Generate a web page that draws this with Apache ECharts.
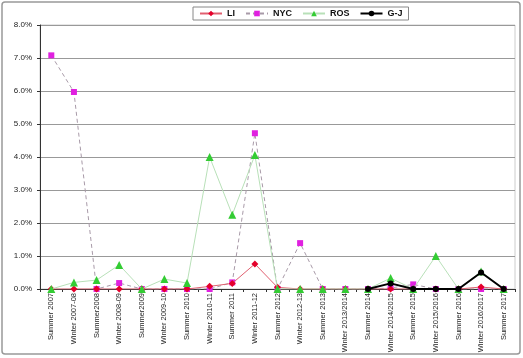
<!DOCTYPE html>
<html><head><meta charset="utf-8">
<script src="https://cdn.jsdelivr.net/npm/echarts@6/dist/echarts.min.js"></script>
<style>html,body{margin:0;padding:0;background:#fff}#c{width:523px;height:358px}</style>
</head><body><div id="c"></div>
<script>
const categories = ["Summer 2007","Winter 2007-08","Summer2008","Winter 2008-09","Summer2009","Winter 2009-10","Summer 2010","Winter 2010-11","Summer 2011","Winter 2011-12","Summer 2012","Winter 2012-13","Summer 2013","Winter 2013/2014","Summer 2014","Winter 2014/2015","Summer 2015","Winter 2015/2016","Summer 2016","Winter 2016/2017","Summer 2017"];
const LI  = [0,0,0,0,0,0,0,0.08,0.17,0.76,0.05,0,0,0,0,0,0,0,0,0.06,0];
const NYC = [7.08,5.97,0,0.18,0,0,0,0,0.2,4.72,0,1.39,0,0,0,0.03,0.14,0,0,0,0];
const ROS = [0,0.2,0.27,0.73,0,0.3,0.18,4.0,2.25,4.06,0,0,0,0,0,0.33,0,1.0,0,0.53,0];
const GJ  = [null,null,null,null,null,null,null,null,null,null,null,null,null,null,0,0.17,0,0,0,0.5,0];
const yTicks = [0,1,2,3,4,5,6,7,8];

const chart = echarts.init(document.getElementById('c'));
chart.setOption({
  animation:false,
  textStyle:{fontFamily:'Liberation Sans, Arial, sans-serif'},
  graphic:[{type:'rect',shape:{x:2,y:2,width:518,height:352,r:3},style:{fill:'none',stroke:'#999',lineWidth:1.5}},
           {type:'rect',shape:{x:40,y:25,width:475,height:264},style:{fill:'none',stroke:'#ccc',lineWidth:1},z:-1}],
  legend:{top:7,left:193,itemGap:10,itemWidth:22,itemHeight:7,
    borderColor:'#888',borderWidth:1,padding:[2,6,2,6],borderRadius:0,
    textStyle:{fontSize:9,fontWeight:'bold',color:'#111'},
    data:['LI','NYC','ROS','G-J']},
  grid:{left:40,right:8,top:25,bottom:69},
  xAxis:{type:'category',data:categories,boundaryGap:true,
    axisLine:{lineStyle:{color:'#333',width:1}},
    axisTick:{show:true,length:3,lineStyle:{color:'#333'}},
    axisLabel:{rotate:90,interval:0,fontSize:7.5,color:'#222',margin:4}},
  yAxis:{type:'value',min:yTicks[0],max:yTicks[yTicks.length-1],interval:1,
    axisLine:{show:true,lineStyle:{color:'#333'}},
    axisTick:{show:true,length:3,lineStyle:{color:'#333'}},
    axisLabel:{fontSize:8,color:'#222',formatter:v=>v.toFixed(1)+'%'},
    splitLine:{lineStyle:{color:'#999',width:1}}},
  series:[
    {name:'LI',type:'line',data:LI,symbol:'diamond',symbolSize:7,z:3,
      itemStyle:{color:'#e4002b'},lineStyle:{color:'#e06070',width:1}},
    {name:'NYC',type:'line',data:NYC,symbol:'rect',symbolSize:6,z:2,
      itemStyle:{color:'#e020e0'},lineStyle:{color:'#a89aa8',width:1,type:[4,3]}},
    {name:'ROS',type:'line',data:ROS,symbol:'triangle',symbolSize:8,z:4,
      itemStyle:{color:'#33cc33'},lineStyle:{color:'#b8e0b8',width:1}},
    {name:'G-J',type:'line',data:GJ,symbol:'circle',symbolSize:6,z:5,connectNulls:false,
      itemStyle:{color:'#000'},lineStyle:{color:'#000',width:2}}
  ]
});
</script></body></html>
